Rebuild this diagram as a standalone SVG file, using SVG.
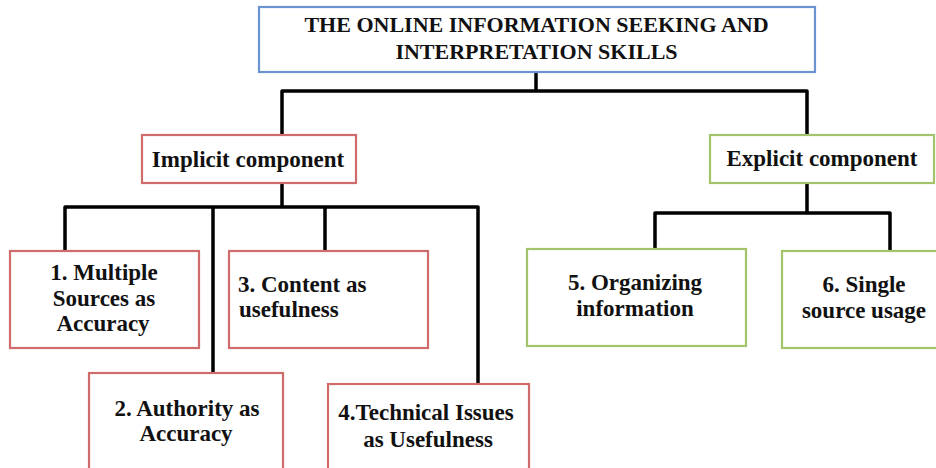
<svg xmlns="http://www.w3.org/2000/svg" width="936" height="468" viewBox="0 0 936 468">
<style>
  .box { fill: #ffffff; stroke-width: 2.2; }
  .blue { stroke: #6b93cf; }
  .red { stroke: #cf6b6b; }
  .green { stroke: #a3c46a; }
  .conn { fill: none; stroke: #000000; stroke-width: 3.5; stroke-linejoin: round; stroke-linecap: butt; }
</style>
<rect x="0" y="0" width="936" height="468" fill="#ffffff"/>
<g id="connectors">
  <path class="conn" d="M536,72 V91 M282,135 V91 H807 V135"/>
  <path class="conn" d="M282,183 V207 M65,251 V207 H478 V384 M213,207 V373 M325,207 V251"/>
  <path class="conn" d="M807,183 V213 M655,249 V213 H890 V253"/>
</g>
<g id="root">
  <rect class="box blue" x="259" y="7" width="556" height="65"/>
  <text x="536.5" y="32" font-family="Liberation Serif" font-weight="bold" font-size="22" fill="#111111" text-anchor="middle">THE  ONLINE INFORMATION SEEKING AND</text>
  <text x="536.5" y="59" font-family="Liberation Serif" font-weight="bold" font-size="22" fill="#111111" text-anchor="middle">INTERPRETATION  SKILLS</text>
</g>
<g id="implicit">
  <rect class="box red" x="142" y="135" width="214" height="48"/>
  <text x="248" y="167" font-family="Liberation Serif" font-weight="bold" font-size="23" fill="#111111" text-anchor="middle">Implicit component</text>
</g>
<g id="explicit">
  <rect class="box green" x="710" y="135" width="224" height="48"/>
  <text x="822" y="166" font-family="Liberation Serif" font-weight="bold" font-size="23" fill="#111111" text-anchor="middle">Explicit component</text>
</g>
<g id="node1">
  <rect class="box red" x="10" y="251" width="189" height="97"/>
  <text x="104" y="280" font-family="Liberation Serif" font-weight="bold" font-size="23" fill="#111111" text-anchor="middle">1. Multiple</text>
  <text x="104" y="306" font-family="Liberation Serif" font-weight="bold" font-size="23" fill="#111111" text-anchor="middle">Sources as</text>
  <text x="103" y="331" font-family="Liberation Serif" font-weight="bold" font-size="23" fill="#111111" text-anchor="middle">Accuracy</text>
</g>
<g id="node2">
  <rect class="box red" x="89" y="373" width="194" height="110"/>
  <text x="187" y="416" font-family="Liberation Serif" font-weight="bold" font-size="23" fill="#111111" text-anchor="middle">2.  Authority as</text>
  <text x="186" y="441" font-family="Liberation Serif" font-weight="bold" font-size="23" fill="#111111" text-anchor="middle">Accuracy</text>
</g>
<g id="node3">
  <rect class="box red" x="229" y="251" width="199" height="97"/>
  <text x="238" y="292" font-family="Liberation Serif" font-weight="bold" font-size="23" fill="#111111">3. Content as</text>
  <text x="239" y="317" font-family="Liberation Serif" font-weight="bold" font-size="23" fill="#111111">usefulness</text>
</g>
<g id="node4">
  <rect class="box red" x="328" y="384" width="201" height="100"/>
  <text x="426" y="420" font-family="Liberation Serif" font-weight="bold" font-size="23" fill="#111111" text-anchor="middle">4.Technical Issues</text>
  <text x="428" y="447" font-family="Liberation Serif" font-weight="bold" font-size="23" fill="#111111" text-anchor="middle">as Usefulness</text>
</g>
<g id="node5">
  <rect class="box green" x="527" y="249" width="219" height="97"/>
  <text x="635" y="290" font-family="Liberation Serif" font-weight="bold" font-size="23" fill="#111111" text-anchor="middle">5. Organizing</text>
  <text x="635" y="316" font-family="Liberation Serif" font-weight="bold" font-size="23" fill="#111111" text-anchor="middle">information</text>
</g>
<g id="node6">
  <rect class="box green" x="782" y="251" width="164" height="97"/>
  <text x="864" y="292" font-family="Liberation Serif" font-weight="bold" font-size="23" fill="#111111" text-anchor="middle">6. Single</text>
  <text x="864" y="318" font-family="Liberation Serif" font-weight="bold" font-size="23" fill="#111111" text-anchor="middle">source usage</text>
</g>
</svg>
